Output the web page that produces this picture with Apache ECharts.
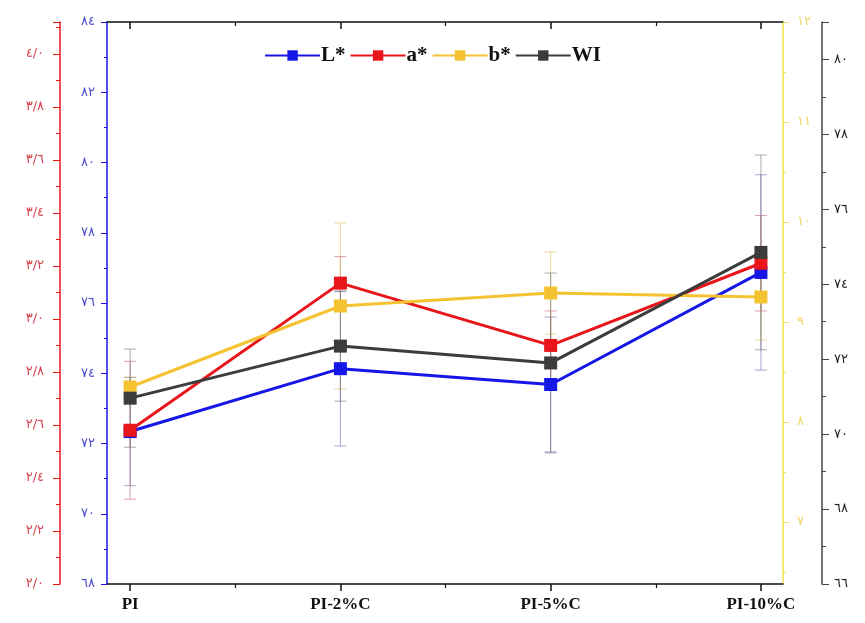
<!DOCTYPE html>
<html>
<head>
<meta charset="utf-8">
<script src="https://cdn.jsdelivr.net/npm/echarts@6/dist/echarts.min.js"></script>
<style>
  html, body { margin: 0; padding: 0; background: #fff; }
  #chart { width: 865px; height: 623px; }
</style>
</head>
<body>
<div id="chart"></div>
<script>
// categories on the x axis
const categories = ['PI', 'PI-2%C', 'PI-5%C', 'PI-10%C'];

// series values
const lValues = [72.34, 74.13, 73.68, 76.87];
const aValues = [2.58, 3.135, 2.90, 3.21];
const bValues = [8.35, 9.16, 9.29, 9.25];
const wiValues = [70.96, 72.35, 71.90, 74.85];

// error bar half-widths
const lErr = [1.54, 2.2, 1.92, 2.78];
const aErr = [0.26, 0.1, 0.13, 0.18];
const bErr = [0.1, 0.83, 0.41, 0.43];
const wiErr = [1.31, 1.47, 2.4, 2.6];

// tick values
const xTicks = [0, 1, 2, 3];
const xMinorTicks = [0.5, 1.5, 2.5];
const bTicks = [7, 8, 9, 10, 11, 12];
const bMinorTicks = [6.5, 7.5, 8.5, 9.5, 10.5, 11.5];

const AR = '٠١٢٣٤٥٦٧٨٩';
function ar(s) {
  return String(s).replace(/\d/g, d => AR[d]).replace('.', '/');
}
function onStep(v, step) {
  const k = v / step;
  return Math.abs(k - Math.round(k)) < 1e-6;
}

const colL = '#1616e6', colA = '#e8151b', colB = '#f5c231', colW = '#3c3c3c';
const digitFont = 'DejaVu Sans';

const chart = echarts.init(document.getElementById('chart'));

function pairs(vals) { return vals.map((v, i) => [i, v]); }
function errPairs(vals, errs) { return vals.map((v, i) => [i, v, errs[i]]); }

function errSeries(name, vals, errs, yIdx, color) {
  return {
    name: name + '_err',
    type: 'custom',
    xAxisIndex: 0,
    yAxisIndex: yIdx,
    z: 1,
    silent: true,
    data: errPairs(vals, errs),
    renderItem: function (params, api) {
      const x = api.value(0), y = api.value(1), e = api.value(2);
      const top = api.coord([x, y + e]);
      const bot = api.coord([x, y - e]);
      const st = { stroke: color, lineWidth: 1, opacity: 0.55 };
      return {
        type: 'group',
        children: [
          { type: 'line', shape: { x1: top[0], y1: top[1], x2: bot[0], y2: bot[1] }, style: st },
          { type: 'line', shape: { x1: top[0] - 6, y1: top[1], x2: top[0] + 6, y2: top[1] }, style: st },
          { type: 'line', shape: { x1: bot[0] - 6, y1: bot[1], x2: bot[0] + 6, y2: bot[1] }, style: st }
        ]
      };
    }
  };
}

function lineSeries(name, vals, yIdx, color) {
  return {
    name: name,
    type: 'line',
    xAxisIndex: 0,
    yAxisIndex: yIdx,
    data: pairs(vals),
    symbol: 'rect',
    symbolSize: 13,
    z: 3,
    lineStyle: { color: color, width: 3 },
    itemStyle: { color: color }
  };
}

const xCommon = { type: 'value', min: -0.11, max: 3.105, splitLine: { show: false } };

const option = {
  animation: false,
  grid: { left: 107, right: 82, top: 22, bottom: 39, outerBoundsMode: 'none' },
  legend: {
    top: 40,
    left: 'center',
    itemWidth: 55,
    itemHeight: 13,
    itemGap: 4,
    data: ['L*', 'a*', 'b*', 'WI'],
    textStyle: { fontFamily: 'Liberation Serif', fontWeight: 'bold', fontSize: 21, color: '#111', padding: [0, 0, 0, -4] }
  },
  xAxis: [
    Object.assign({}, xCommon, {
      position: 'bottom',
      axisLine: { show: true, onZero: false, lineStyle: { color: '#111', width: 1.5 } },
      axisTick: { show: true, length: 7, customValues: xTicks, lineStyle: { color: '#111', width: 1.5 } },
      axisLabel: {
        customValues: xTicks,
        formatter: v => categories[Math.round(v)],
        fontFamily: 'Liberation Serif', fontWeight: 'bold', fontSize: 17, color: '#111', margin: 12
      }
    }),
    Object.assign({}, xCommon, {
      position: 'bottom',
      axisLine: { show: false, onZero: false },
      axisTick: { show: true, length: 4, customValues: xMinorTicks, lineStyle: { color: '#111', width: 1.2 } },
      axisLabel: { show: false }
    }),
    Object.assign({}, xCommon, {
      position: 'top',
      axisLine: { show: true, onZero: false, lineStyle: { color: '#111', width: 1.5 } },
      axisTick: { show: true, inside: true, length: 7, customValues: xTicks, lineStyle: { color: '#111', width: 1.5 } },
      axisLabel: { show: false }
    }),
    Object.assign({}, xCommon, {
      position: 'top',
      axisLine: { show: false, onZero: false },
      axisTick: { show: true, inside: true, length: 4, customValues: xMinorTicks, lineStyle: { color: '#111', width: 1.2 } },
      axisLabel: { show: false }
    })
  ],
  yAxis: [
    {
      type: 'value', position: 'left', offset: 0, min: 68, max: 84, interval: 2,
      splitLine: { show: false },
      axisLine: { show: true, onZero: false, lineStyle: { color: colL, width: 1.5 } },
      axisTick: { show: true, length: 6, lineStyle: { color: colL } },
      minorTick: { show: true, splitNumber: 2, length: 3, lineStyle: { color: colL } },
      axisLabel: { color: '#4a4ad0', fontFamily: digitFont, fontSize: 13, margin: 12, formatter: v => ar(v) }
    },
    {
      type: 'value', position: 'left', offset: 47, min: 2, max: 4.12, interval: 0.2,
      splitLine: { show: false },
      axisLine: { show: true, onZero: false, lineStyle: { color: colA, width: 1.5 } },
      axisTick: { show: true, length: 7, lineStyle: { color: colA } },
      minorTick: { show: true, splitNumber: 2, length: 4, lineStyle: { color: colA } },
      axisLabel: {
        color: '#d6414c', fontFamily: digitFont, fontSize: 13, margin: 16,
        formatter: v => onStep(v, 0.2) ? ar(v.toFixed(1)) : ''
      }
    },
    {
      type: 'value', position: 'right', offset: 0, min: 6.38, max: 12,
      splitLine: { show: false },
      axisLine: { show: true, onZero: false, lineStyle: { color: '#f0e14a', width: 1.5 } },
      axisTick: { show: true, length: 6, customValues: bTicks, lineStyle: { color: '#eedc70' } },
      axisLabel: { customValues: bTicks, color: '#ecd56a', fontFamily: digitFont, fontSize: 13, margin: 14, formatter: v => ar(v) }
    },
    {
      type: 'value', position: 'right', offset: 39, min: 66, max: 81, interval: 2,
      splitLine: { show: false },
      axisLine: { show: true, onZero: false, lineStyle: { color: '#444', width: 1.5 } },
      axisTick: { show: true, length: 7, lineStyle: { color: '#444' } },
      minorTick: { show: true, splitNumber: 2, length: 4, lineStyle: { color: '#444' } },
      axisLabel: {
        color: '#222', fontFamily: digitFont, fontSize: 13, margin: 12,
        formatter: v => onStep(v, 2) ? ar(v) : ''
      }
    },
    {
      type: 'value', position: 'right', offset: 0, min: 6.38, max: 12,
      splitLine: { show: false },
      axisLine: { show: false, onZero: false },
      axisTick: { show: true, length: 3, customValues: bMinorTicks, lineStyle: { color: '#eedc70' } },
      axisLabel: { show: false }
    }
  ],
  series: [
    errSeries('L*', lValues, lErr, 0, '#5a5ab0'),
    errSeries('a*', aValues, aErr, 1, '#c05060'),
    errSeries('b*', bValues, bErr, 2, '#d8b850'),
    errSeries('WI', wiValues, wiErr, 3, '#666'),
    lineSeries('L*', lValues, 0, colL),
    lineSeries('a*', aValues, 1, colA),
    lineSeries('b*', bValues, 2, colB),
    lineSeries('WI', wiValues, 3, colW)
  ]
};

chart.setOption(option);
</script>
</body>
</html>
